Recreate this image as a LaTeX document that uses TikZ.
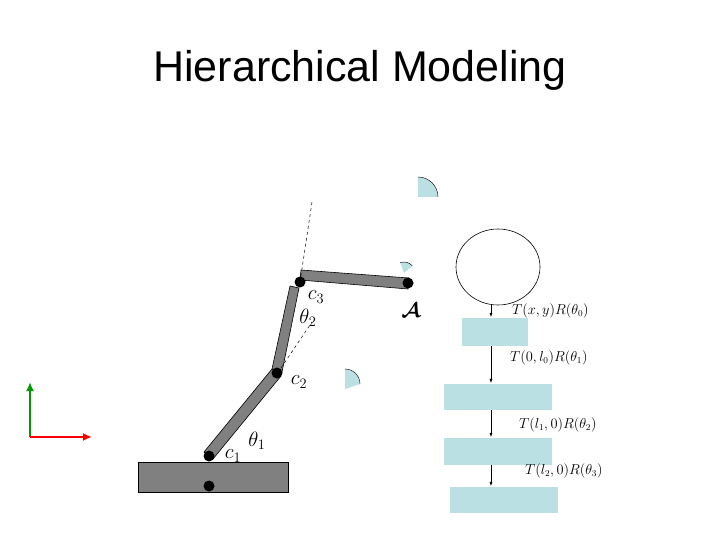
\documentclass[tikz,border=0pt]{standalone}
\usepackage{amsmath,amssymb}
\usepackage{fontspec}
\setmainfont{Liberation Serif}
\newfontfamily\titlefont{Liberation Sans}
\usetikzlibrary{arrows.meta,shapes.geometric}
\definecolor{lb}{RGB}{186,224,227}
\definecolor{lk}{RGB}{128,128,128}
\begin{document}
\begin{tikzpicture}[x=1pt,y=-1pt,
  link/.style={draw=black,line width=0.6pt,fill=lk},
  joint/.style={circle,fill=black,inner sep=0pt,minimum size=11pt},
  tbox/.style={fill=lb,inner sep=0pt,minimum height=#1},
  edge/.style={-{Latex[length=5pt,width=3pt]},line width=1pt},
  lab/.style={font=\fontsize{13.5}{13.5}\selectfont,anchor=west,inner sep=0pt},
  sym/.style={font=\fontsize{20}{20}\selectfont,inner sep=0pt}]
\useasboundingbox (0,0) rectangle (720,540);
\node[font=\titlefont\fontsize{43}{43}\selectfont] (title) at (360,70) {Hierarchical Modeling};
% axes
\coordinate (o) at (30,437);
\coordinate (yax) at (30,382);
\coordinate (xax) at (92,437);
\draw[-{Latex[length=9pt,width=8pt]},line width=2pt,green!60!black] (o) -- (yax);
\draw[-{Latex[length=9pt,width=8pt]},line width=2pt,red] (o) -- (xax);
% base
\draw[link] (138,462) rectangle (288,492);
\node[joint] (c0) at (209,486) {};
% links
\draw[link] (204,452) -- (272,369) -- (281,376) -- (213,459) -- cycle;
\draw[link] (272,369) -- (290,286) -- (299,288) -- (282,372) -- cycle;
\draw[link] (301,270) -- (409,278) -- (408,289) -- (300,280) -- cycle;
\node[joint] (c1) at (209,456) {};
\node[joint] (c2) at (277,373) {};
\node[joint] (c3) at (300,282) {};
\node[joint] (a) at (408,283) {};
\coordinate (d1) at (312,202);
\draw[dashed,line width=0.5pt] (c3) -- (d1);
\coordinate (d2) at (312,322);
\coordinate (d2s) at (281,368);
\draw[dashed,line width=0.5pt] (d2s) -- (d2);
% labels
\node[sym] (lc3) at (316,297) {$c_3$};
\node[sym] (lt2) at (308,318) {$\theta_2$};
\node[sym] (lc2) at (299,382) {$c_2$};
\node[sym] (lt1) at (257,441) {$\theta_1$};
\node[sym] (lc1) at (233,456) {$c_1$};
\node[sym] (la) at (411,310) {$\boldsymbol{\mathcal{A}}$};
% quarter disks
\fill[lb] (418,197) -- (418,177) arc (-90:0:20) -- cycle;
\draw (418,177) arc (-90:0:20);
\fill[lb] (345,389) -- (345,369) arc (-90:0:15) -- cycle;
\draw (345,369) arc (-90:0:15);
\fill[lb] (404,273) -- ++(-110:11) arc (-110:-40:11) -- cycle;
\draw (404,273) ++(-110:11) arc (-110:-40:11);
% tree
\node[draw,ellipse,minimum width=84pt,minimum height=76pt,inner sep=0pt,line width=0.6pt] (root) at (498,267) {};
\node[tbox=28pt,minimum width=66pt] (b1) at (495,332) {};
\node[tbox=26pt,minimum width=108pt] (b2) at (498,397) {};
\node[tbox=27pt,minimum width=108pt] (b3) at (498,451.5) {};
\node[tbox=26pt,minimum width=108pt] (b4) at (504,500) {};
\draw[edge] (root.south -| 491,0) -- (b1.north -| 491,0);
\draw[edge] (b1.south -| 491,0) -- (b2.north -| 491,0);
\draw[edge] (b2.south -| 491,0) -- (b3.north -| 491,0);
\draw[edge] (b3.south -| 491,0) -- (b4.north -| 491,0);
\node[lab] (t1) at (512,311) {$T(x,y)R(\theta_0)$};
\node[lab] (t2) at (510,358) {$T(0,l_0)R(\theta_1)$};
\node[lab] (t3) at (519,425) {$T(l_1,0)R(\theta_2)$};
\node[lab] (t4) at (525,471) {$T(l_2,0)R(\theta_3)$};
\end{tikzpicture}
\end{document}
